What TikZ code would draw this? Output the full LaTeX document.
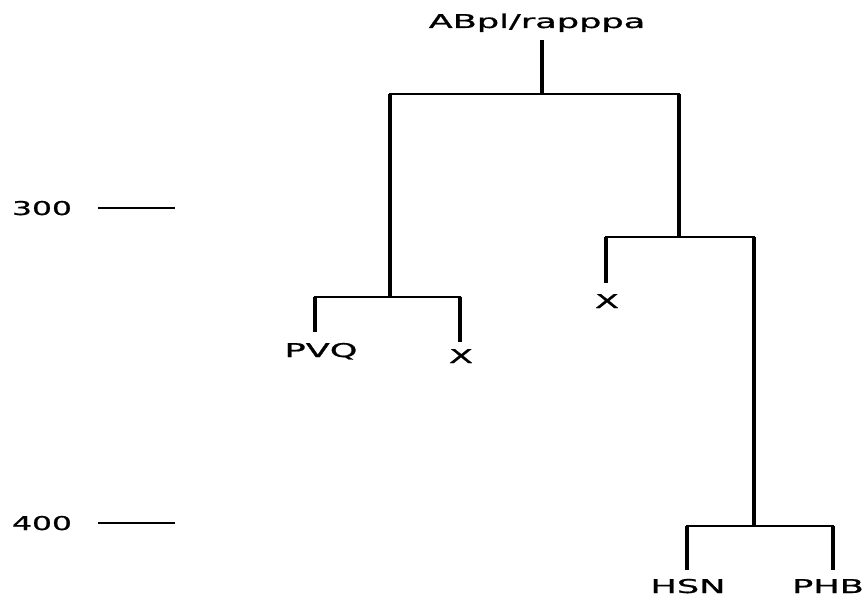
\documentclass[tikz,border=0pt]{standalone}
\usepackage{fontspec}
\usepackage{graphicx}
\setmainfont{DejaVu Sans}
\newfontfamily\labfont{DejaVu Sans}[FakeBold=0.8]
\newcommand\wtxt[2][1.85]{\scalebox{#1}[1]{#2}}
\begin{document}
\begin{tikzpicture}[x=1pt,y=-1pt,
  lab/.style={font=\labfont\fontsize{19}{22}\selectfont, inner sep=0pt, anchor=base},
  vbr/.style={line width=3.8pt},
  hbr/.style={line width=2.7pt, line cap=rect},
  tick/.style={line width=2.3pt}]
\useasboundingbox (0,0) rectangle (868,602);
% labels
\node[lab] (top) at (537,28) {\wtxt{ABpl/rapppa}};
\node[lab] (pvq) at (321,357) {\wtxt{PVQ}};
\node[lab] (x1) at (461,363) {\wtxt{X}};
\node[lab] (x2) at (607,308) {\wtxt{X}};
\node[lab] (hsn) at (688,593) {\wtxt{HSN}};
\node[lab] (phb) at (828,593) {\wtxt{PHB}};
\node[lab] (a300) at (42,215) {\wtxt[1.65]{300}};
\node[lab] (a400) at (42,530) {\wtxt[1.65]{400}};
% axis ticks
\coordinate (t3a) at (98,208); \coordinate (t3b) at (175,208);
\coordinate (t4a) at (98,523); \coordinate (t4b) at (175,523);
\draw[tick] (t3a) -- (t3b);
\draw[tick] (t4a) -- (t4b);
% junctions
\coordinate (rootT) at (542,40);
\coordinate (root) at (542,94);
\coordinate (r0L) at (390,94);
\coordinate (r0R) at (679,94);
\coordinate (nL) at (390,297);
\coordinate (nLl) at (315,297);
\coordinate (nLr) at (460,297);
\coordinate (nR) at (679,237);
\coordinate (nRl) at (606,237);
\coordinate (nRr) at (754,237);
\coordinate (nB) at (754,526);
\coordinate (nBl) at (687,526);
\coordinate (nBr) at (833,526);
% leaf tips
\coordinate (tpvq) at (315,332);
\coordinate (tx1) at (460,342);
\coordinate (tx2) at (606,283);
\coordinate (thsn) at (687,570);
\coordinate (tphb) at (833,570);
% horizontal bars
\draw[hbr] (r0L) -- (r0R);
\draw[hbr] (nLl) -- (nLr);
\draw[hbr] (nRl) -- (nRr);
\draw[hbr] (nBl) -- (nBr);
% vertical branches
\draw[vbr] (rootT) -- (root);
\draw[vbr] (r0L) -- (nL);
\draw[vbr] (r0R) -- (nR);
\draw[vbr] (nLl) -- (tpvq);
\draw[vbr] (nLr) -- (tx1);
\draw[vbr] (nRl) -- (tx2);
\draw[vbr] (nRr) -- (nB);
\draw[vbr] (nBl) -- (thsn);
\draw[vbr] (nBr) -- (tphb);
\end{tikzpicture}
\end{document}
